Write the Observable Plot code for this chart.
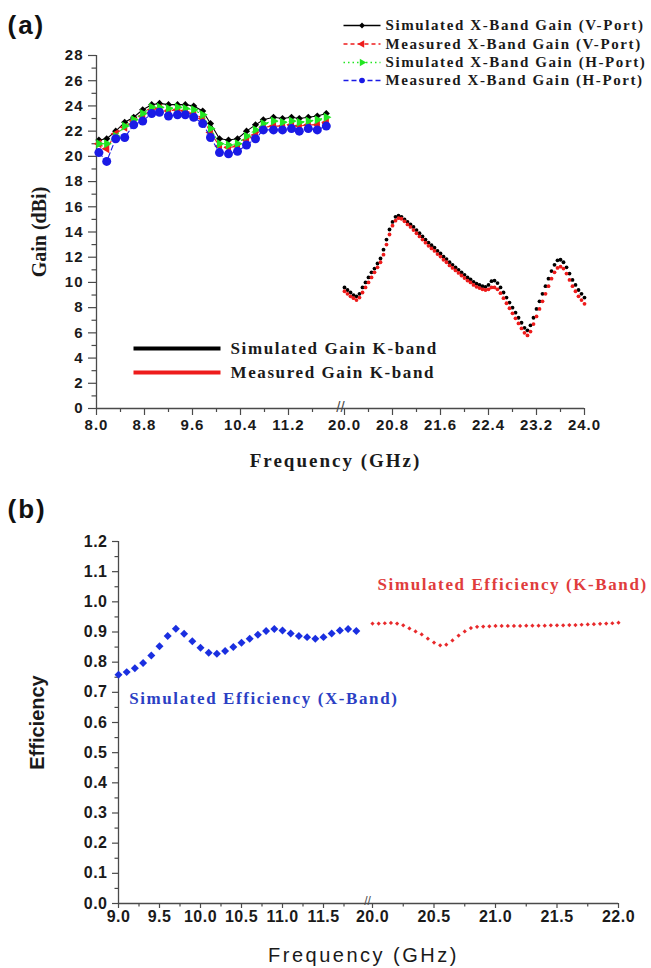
<!DOCTYPE html>
<html>
<head>
<meta charset="utf-8">
<script src="https://cdn.jsdelivr.net/npm/d3@7"></script>
<script src="https://cdn.jsdelivr.net/npm/@observablehq/plot@0.6"></script>
<style>
  html, body { margin: 0; padding: 0; background: #fff; }
  #wrap { position: relative; width: 651px; height: 968px; overflow: hidden; background: #fff; }
  #pa, #pb { position: absolute; left: 0; width: 651px; }
  #pa { top: 0; }
  #pb { top: 485px; }
  text[aria-label="panel tag"] { letter-spacing: 2px; }
  text[aria-label="legend x"] { letter-spacing: 1.6px; }
  text[aria-label="legend k"] { letter-spacing: 1.6px; }
  text[aria-label="x title a"] { letter-spacing: 2px; }
  text[aria-label="x title b"] { letter-spacing: 2.5px; }
  text[aria-label="eff note"] { letter-spacing: 1.6px; }
  #pa g[aria-label="x-axis tick label"] text, #pa g[aria-label="y-axis tick label"] text { letter-spacing: 1px; }
  #pb g[aria-label="x-axis tick label"] text, #pb g[aria-label="y-axis tick label"] text { letter-spacing: 0.5px; }
</style>
</head>
<body>
<div id="wrap"><div id="pa"></div><div id="pb"></div></div>
<script>
// ================= DATA: panel (a) =================
// X-band gain (dBi)
const xbFreq = [8.04, 8.17, 8.32, 8.47, 8.62, 8.77, 8.92, 9.05, 9.2, 9.35, 9.48, 9.62, 9.77, 9.9, 10.05, 10.2, 10.35, 10.5, 10.65, 10.78, 10.95, 11.1, 11.25, 11.38, 11.53, 11.68, 11.83];
const xbSimV  = [21.3, 21.4, 22.0, 22.7, 23.1, 23.7, 24.1, 24.2, 24.1, 24.1, 24.1, 24.0, 23.6, 22.6, 21.4, 21.3, 21.4, 22.0, 22.5, 22.9, 23.1, 23.0, 23.1, 23.0, 23.1, 23.2, 23.4];
const xbMeasV = [21.0, 20.6, 21.8, 22.3, 22.8, 23.2, 23.7, 23.8, 23.6, 23.7, 23.6, 23.4, 23.0, 21.9, 20.8, 20.7, 20.8, 21.3, 21.7, 22.3, 22.4, 22.4, 22.5, 22.4, 22.5, 22.5, 22.7];
const xbSimH  = [21.0, 21.0, 21.6, 22.4, 22.9, 23.4, 23.9, 23.9, 23.8, 23.9, 23.8, 23.7, 23.3, 22.2, 21.0, 20.9, 21.0, 21.6, 22.1, 22.6, 22.8, 22.7, 22.8, 22.7, 22.8, 22.9, 23.1];
const xbMeasH = [20.3, 19.6, 21.4, 21.5, 22.5, 22.8, 23.4, 23.5, 23.2, 23.3, 23.3, 23.1, 22.6, 21.5, 20.3, 20.2, 20.4, 20.9, 21.4, 22.1, 22.1, 22.1, 22.2, 22.0, 22.2, 22.1, 22.4];

// K-band gain (dBi)
const kbFreq = [
  20.00, 20.05, 20.10, 20.15, 20.20, 20.25, 20.30, 20.35, 20.40, 20.45, 20.50, 20.55, 20.60, 20.65, 20.70, 20.75, 20.80, 20.85, 20.90, 20.95,
  21.00, 21.05, 21.10, 21.15, 21.20, 21.25, 21.30, 21.35, 21.40, 21.45, 21.50, 21.55, 21.60, 21.65, 21.70, 21.75, 21.80, 21.85, 21.90, 21.95,
  22.00, 22.05, 22.10, 22.15, 22.20, 22.25, 22.30, 22.35, 22.40, 22.45, 22.50, 22.55, 22.60, 22.65, 22.70, 22.75, 22.80, 22.85, 22.90, 22.95,
  23.00, 23.05, 23.10, 23.15, 23.20, 23.25, 23.30, 23.35, 23.40, 23.45, 23.50, 23.55, 23.60, 23.65, 23.70, 23.75, 23.80, 23.85, 23.90, 23.95,
  24.00];
const kbSim = [
  9.6, 9.4, 9.2, 9.0, 8.9, 9.1, 9.6, 10.0, 10.4, 10.8, 11.1, 11.5, 11.9, 12.6, 13.4, 14.2, 14.8, 15.2, 15.3, 15.2,
  15.0, 14.8, 14.6, 14.4, 14.15, 13.9, 13.65, 13.4, 13.15, 12.95, 12.75, 12.5, 12.3, 12.05, 11.85, 11.6, 11.4, 11.2, 11.0, 10.8,
  10.6, 10.4, 10.25, 10.05, 9.9, 9.8, 9.7, 9.65, 9.8, 10.1, 10.15, 9.95, 9.6, 9.2, 8.8, 8.4, 8.0, 7.6, 7.2, 6.8,
  6.4, 6.2, 6.6, 7.2, 7.9, 8.5, 9.1, 9.7, 10.3, 10.9, 11.4, 11.75, 11.8, 11.6, 11.2, 10.7, 10.2, 9.8, 9.4, 9.1,
  8.8];
const kbMeas = [
  9.3, 9.1, 8.9, 8.75, 8.6, 8.8, 9.2, 9.6, 10.0, 10.4, 10.8, 11.2, 11.6, 12.2, 13.0, 13.8, 14.5, 14.9, 15.1, 15.05,
  14.85, 14.6, 14.4, 14.15, 13.9, 13.65, 13.4, 13.15, 12.9, 12.7, 12.5, 12.25, 12.05, 11.8, 11.6, 11.35, 11.15, 10.95, 10.75, 10.55,
  10.35, 10.15, 10.0, 9.8, 9.65, 9.55, 9.45, 9.4, 9.45, 9.6, 9.6, 9.45, 9.15, 8.75, 8.35, 7.95, 7.55, 7.15, 6.75, 6.35,
  6.0, 5.8, 6.1, 6.7, 7.3, 7.9, 8.5, 9.1, 9.7, 10.3, 10.8, 11.15, 11.25, 11.1, 10.7, 10.2, 9.7, 9.3, 8.9, 8.6,
  8.3];

const aXTicks = [8.0, 8.8, 9.6, 10.4, 11.2, 20.0, 20.8, 21.6, 22.4, 23.2, 24.0];
const aXMinor = [8.4, 9.2, 10.0, 10.8, 11.6, 20.4, 21.2, 22.0, 22.8, 23.6];
const aYTicks = [0, 2, 4, 6, 8, 10, 12, 14, 16, 18, 20, 22, 24, 26, 28];
const aYMinor = [1, 3, 5, 7, 9, 11, 13, 15, 17, 19, 21, 23, 25, 27];
const legendX = ["Simulated X-Band Gain (V-Port)", "Measured X-Band Gain (V-Port)", "Simulated X-Band Gain (H-Port)", "Measured X-Band Gain (H-Port)"];
const legendK = ["Simulated Gain K-band", "Measured Gain K-band"];

// ================= DATA: panel (b) =================
const effXFreq = [9.0, 9.1, 9.2, 9.3, 9.4, 9.5, 9.6, 9.7, 9.8, 9.9, 10.0, 10.1, 10.2, 10.3, 10.4, 10.5, 10.6, 10.7, 10.8, 10.9, 11.0, 11.1, 11.2, 11.3, 11.4, 11.5, 11.6, 11.7, 11.8, 11.9];
const effX = [0.758, 0.767, 0.780, 0.797, 0.822, 0.853, 0.887, 0.911, 0.894, 0.869, 0.848, 0.831, 0.828, 0.837, 0.850, 0.864, 0.878, 0.891, 0.903, 0.910, 0.905, 0.895, 0.887, 0.883, 0.878, 0.883, 0.895, 0.905, 0.910, 0.903];
const effKFreq = [20.00, 20.05, 20.10, 20.15, 20.20, 20.25, 20.30, 20.35, 20.40, 20.45, 20.50, 20.55, 20.60, 20.65, 20.70, 20.75, 20.80, 20.85, 20.90, 20.95,
  21.00, 21.05, 21.10, 21.15, 21.20, 21.25, 21.30, 21.35, 21.40, 21.45, 21.50, 21.55, 21.60, 21.65, 21.70, 21.75, 21.80, 21.85, 21.90, 21.95, 22.00];
const effK = [0.928, 0.928, 0.929, 0.930, 0.928, 0.922, 0.912, 0.902, 0.892, 0.878, 0.865, 0.856, 0.858, 0.872, 0.888, 0.902, 0.913, 0.917, 0.918, 0.919,
  0.920, 0.920, 0.920, 0.920, 0.920, 0.921, 0.921, 0.921, 0.921, 0.922, 0.922, 0.922, 0.923, 0.923, 0.924, 0.925, 0.926, 0.927, 0.928, 0.929, 0.931];

const bXTicks = [9.0, 9.5, 10.0, 10.5, 11.0, 11.5, 20.0, 20.5, 21.0, 21.5, 22.0];
const bXMinor = [9.25, 9.75, 10.25, 10.75, 11.25, 11.75, 20.25, 20.75, 21.25, 21.75];
const bYTicks = [0.0, 0.1, 0.2, 0.3, 0.4, 0.5, 0.6, 0.7, 0.8, 0.9, 1.0, 1.1, 1.2];
const bYMinor = [0.05, 0.15, 0.25, 0.35, 0.45, 0.55, 0.65, 0.75, 0.85, 0.95, 1.05, 1.15];
const effNotes = ["Simulated Efficiency (K-Band)", "Simulated Efficiency (X-Band)"];

// ================= STYLE =================
const serif = "Liberation Serif, Times New Roman, serif";
const sans = "Liberation Sans, Arial, Helvetica, sans-serif";
const axisCol = "#4a4a4a";
const ink = "#1a1a1a";
const hline = (half) => ({draw(ctx) { ctx.moveTo(-half, 0); ctx.lineTo(half, 0); }});
const tag = (name) => () => name;   // per-element aria-label, used for CSS letter-spacing

const xbSeries = [
  {name: legendX[0], vals: xbSimV,  color: "#000000", symbol: "diamond2", r: 3.2, rotate: 0,   dash: null,  lr: 2.6},
  {name: legendX[1], vals: xbMeasV, color: "#ee1c1c", symbol: "triangle", r: 3.3, rotate: -90, dash: "4,3", lr: 2.8},
  {name: legendX[2], vals: xbSimH,  color: "#22e622", symbol: "triangle", r: 3.3, rotate: 90,  dash: "1.5,3", lr: 2.8},
  {name: legendX[3], vals: xbMeasH, color: "#1a1ae6", symbol: "circle",   r: 4.5, rotate: 0,   dash: "5,3", lr: 2.8}
];
const kbSeries = [
  {name: legendK[0], vals: kbSim,  color: "#000000"},
  {name: legendK[1], vals: kbMeas, color: "#ee1c1c"}
];

// ================= PANEL (a) =================
const seriesMarks = xbSeries.flatMap(s => {
  const rows = xbFreq.map((f, i) => ({f, g: s.vals[i]}));
  return [
    Plot.line(rows, {x: "f", y: "g", stroke: s.color, strokeWidth: 1.1, ...(s.dash ? {strokeDasharray: s.dash} : {})}),
    Plot.dot(rows, {x: "f", y: "g", symbol: s.symbol, r: s.r, rotate: s.rotate, fill: s.color, stroke: "none"})
  ];
});
const kMarks = kbSeries.map(s =>
  Plot.dot(kbFreq.map((f, i) => ({f, g: s.vals[i]})), {x: "f", y: "g", r: 1.9, fill: s.color, stroke: "none"})
);
const legendRowsY = [-30, -11.5, 7, 25];
const legendXMarks = xbSeries.flatMap((s, i) => [
  Plot.dot([0], {frameAnchor: "top-left", dx: 265.5, dy: legendRowsY[i], symbol: hline(18.5), fill: "none", stroke: s.color, strokeWidth: 1.4, ...(s.dash ? {strokeDasharray: s.dash} : {})}),
  Plot.dot([0], {frameAnchor: "top-left", dx: 265.5, dy: legendRowsY[i], symbol: s.symbol, r: s.lr, rotate: s.rotate, fill: s.color, stroke: "none"}),
  Plot.text([s.name], {frameAnchor: "top-left", dx: 289, dy: legendRowsY[i], textAnchor: "start", lineAnchor: "middle", fontFamily: serif, fontWeight: "bold", fontSize: 15, fill: ink, ariaLabel: tag("legend x")})
]);
const legendKMarks = kbSeries.flatMap((s, i) => [
  Plot.dot([0], {frameAnchor: "top-left", dx: 80.5, dy: 293 + 24 * i, symbol: hline(43.5), fill: "none", stroke: s.color, strokeWidth: 4}),
  Plot.text([s.name], {frameAnchor: "top-left", dx: 134, dy: 293 + 24 * i, textAnchor: "start", lineAnchor: "middle", fontFamily: serif, fontWeight: "bold", fontSize: 17, fill: ink, ariaLabel: tag("legend k")})
]);

const plotA = Plot.plot({
  width: 651, height: 485,
  marginLeft: 96, marginRight: 67, marginTop: 55, marginBottom: 77,
  x: {type: "linear", domain: [8, 12, 20, 24], range: [96, 336, 344, 584]},
  y: {type: "linear", domain: [0, 28]},
  style: {background: "#fff", fontFamily: sans, color: ink, overflow: "visible"},
  marks: [
    Plot.axisY({ticks: aYTicks, tickSize: 8, tickPadding: 5, tickFormat: d => String(d), fontSize: 15, fontWeight: "bold", fontFamily: sans, stroke: axisCol, strokeWidth: 1.2, fill: ink, label: null}),
    Plot.axisY({ticks: aYMinor, tickSize: 4.5, stroke: axisCol, strokeWidth: 1.2, fill: "none", label: null}),
    Plot.axisX({ticks: aXTicks, tickSize: 7, tickPadding: 4, tickFormat: d => d.toFixed(1), fontSize: 15, fontWeight: "bold", fontFamily: sans, stroke: axisCol, strokeWidth: 1.2, fill: ink, label: null}),
    Plot.axisX({ticks: aXMinor, tickSize: 4, stroke: axisCol, strokeWidth: 1.2, fill: "none", label: null}),
    Plot.ruleX([8], {y1: 0, y2: 28, stroke: axisCol, strokeWidth: 1.3}),
    Plot.ruleY([0], {x1: 8, x2: 24, stroke: axisCol, strokeWidth: 1.3}),
    Plot.text(["//"], {x: 16, y: 0, dy: -1, fontSize: 15, fontFamily: sans, fill: axisCol, lineAnchor: "middle"}),
    ...seriesMarks,
    ...kMarks,
    ...legendXMarks,
    ...legendKMarks,
    Plot.text(["(a)"], {frameAnchor: "top-left", dx: -89, dy: -22, textAnchor: "start", lineAnchor: "bottom", fontFamily: sans, fontWeight: "bold", fontSize: 26, fill: "#111", ariaLabel: tag("panel tag")}),
    Plot.text(["Gain (dBi)"], {frameAnchor: "left", dx: -57, rotate: -90, textAnchor: "middle", lineAnchor: "middle", fontFamily: serif, fontWeight: "bold", fontSize: 20, fill: ink}),
    Plot.text(["Frequency (GHz)"], {frameAnchor: "bottom", dx: -5, dy: 58, textAnchor: "middle", lineAnchor: "bottom", fontFamily: serif, fontWeight: "bold", fontSize: 19, fill: ink, ariaLabel: tag("x title a")})
  ]
});
document.getElementById("pa").appendChild(plotA);

// ================= PANEL (b) =================
const plotB = Plot.plot({
  width: 651, height: 483,
  marginLeft: 118, marginRight: 33, marginTop: 56, marginBottom: 65,
  x: {type: "linear", domain: [9, 12, 20, 22], range: [118, 364, 372, 618]},
  y: {type: "linear", domain: [0, 1.2]},
  style: {background: "#fff", fontFamily: sans, color: ink, overflow: "visible"},
  marks: [
    Plot.axisY({ticks: bYTicks, tickSize: 6, tickPadding: 5, tickFormat: d => d.toFixed(1), fontSize: 16, fontWeight: "bold", fontFamily: sans, stroke: axisCol, strokeWidth: 1.2, fill: ink, label: null}),
    Plot.axisY({ticks: bYMinor, tickSize: 3.5, stroke: axisCol, strokeWidth: 1.2, fill: "none", label: null}),
    Plot.axisX({ticks: bXTicks, tickSize: 5, tickPadding: 2, tickFormat: d => d.toFixed(1), fontSize: 16, fontWeight: "bold", fontFamily: sans, stroke: axisCol, strokeWidth: 1.2, fill: ink, label: null}),
    Plot.axisX({ticks: bXMinor, tickSize: 3.5, stroke: axisCol, strokeWidth: 1.2, fill: "none", label: null}),
    Plot.ruleX([9], {y1: 0, y2: 1.2, stroke: axisCol, strokeWidth: 1.3}),
    Plot.ruleY([0], {x1: 9, x2: 22, stroke: axisCol, strokeWidth: 1.3}),
    Plot.text(["//"], {x: 16, y: 0, dx: -1, dy: -2, fontSize: 12, fontFamily: sans, fill: axisCol, lineAnchor: "middle"}),
    Plot.dot(effXFreq.map((f, i) => ({f, e: effX[i]})), {x: "f", y: "e", symbol: "diamond2", r: 3.6, fill: "#1a2fe0", stroke: "none"}),
    Plot.dot(effKFreq.map((f, i) => ({f, e: effK[i]})), {x: "f", y: "e", symbol: "diamond2", r: 1.9, fill: "#e8292b", stroke: "none"}),
    Plot.text([effNotes[0]], {x: 20, y: 1.056, dx: 5, textAnchor: "start", lineAnchor: "middle", fontFamily: serif, fontWeight: "bold", fontSize: 17, fill: "#e03c3c", ariaLabel: tag("eff note")}),
    Plot.text([effNotes[1]], {x: 9.13, y: 0.678, textAnchor: "start", lineAnchor: "middle", fontFamily: serif, fontWeight: "bold", fontSize: 17, fill: "#2b3fc4", ariaLabel: tag("eff note")}),
    Plot.text(["(b)"], {frameAnchor: "top-left", dx: -111, dy: -24, textAnchor: "start", lineAnchor: "bottom", fontFamily: sans, fontWeight: "bold", fontSize: 26, fill: "#111", ariaLabel: tag("panel tag")}),
    Plot.text(["Efficiency"], {frameAnchor: "left", dx: -81, rotate: -90, textAnchor: "middle", lineAnchor: "middle", fontFamily: sans, fontWeight: "bold", fontSize: 20, fill: ink}),
    Plot.text(["Frequency (GHz)"], {frameAnchor: "bottom", dx: -5, dy: 58, textAnchor: "middle", lineAnchor: "bottom", fontFamily: sans, fontSize: 20, fill: ink, ariaLabel: tag("x title b")})
  ]
});
document.getElementById("pb").appendChild(plotB);
</script>
</body>
</html>
